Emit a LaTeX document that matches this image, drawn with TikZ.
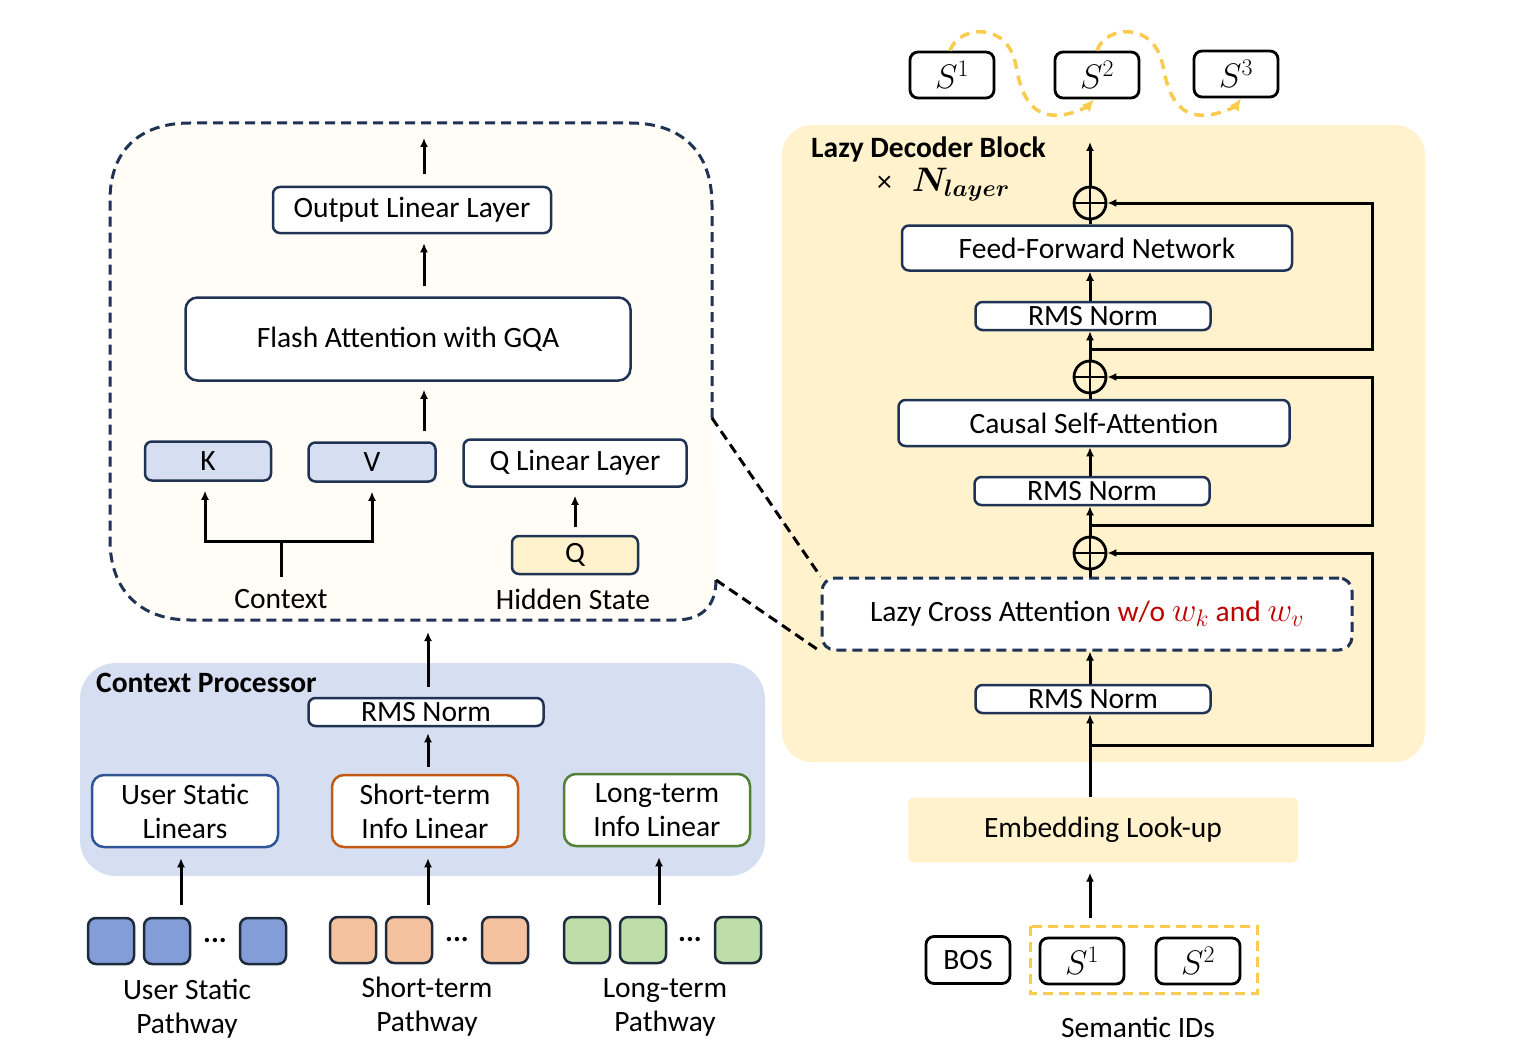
\RequirePackage{fix-cm}
\documentclass[tikz,border=0pt]{standalone}
\usepackage{amsmath,bm}
\usepackage{fontspec}
\setmainfont{Carlito}
\usetikzlibrary{arrows.meta}

\definecolor{navy}{HTML}{203354}
\definecolor{decbg}{HTML}{FFF2CC}
\definecolor{cpbg}{HTML}{D6DEF1}
\definecolor{kvfill}{HTML}{D6DEF1}
\definecolor{zoombg}{HTML}{FFFDF6}
\definecolor{gold}{HTML}{F9CB4F}
\definecolor{usblue}{HTML}{2F5597}
\definecolor{storange}{HTML}{C55A11}
\definecolor{ltgreen}{HTML}{538135}
\definecolor{tokblue}{HTML}{829DD7}
\definecolor{tokorange}{HTML}{F5C29F}
\definecolor{tokgreen}{HTML}{BDDDA9}
\definecolor{tokline}{HTML}{1E2B3C}
\definecolor{darkred}{HTML}{C00000}

\newcommand{\dfont}{\fontsize{29.5}{34}\selectfont}
% larger math to go with the body text
\newcommand{\bigmath}[1]{{\fontsize{34}{34}\selectfont$#1$}}

\tikzset{
  base/.style={font=\dfont, inner sep=0pt, align=center},
  blk/.style={base, draw=navy, line width=2.5pt, rounded corners=7pt, fill=white},
  sbox/.style={base, draw=black, line width=2.8pt, rounded corners=8pt, fill=white,
    minimum width=84pt, minimum height=46pt},
  tok/.style={draw=tokline, line width=2.5pt, rounded corners=8pt,
    minimum width=46pt, minimum height=46pt, inner sep=0pt},
  dots/.style={font=\dfont\bfseries, inner sep=0pt},
  ln/.style={line width=3pt},
  arr/.style={line width=3pt, -{Latex[length=9pt,width=8pt]}},
  goldarr/.style={draw=gold, line width=3.5pt, dash pattern=on 10pt off 7pt,
    -{Latex[length=12pt,width=11pt]}},
  adder/.style={circle, draw, line width=2.8pt, minimum size=32pt, inner sep=0pt,
    path picture={
      \draw[line width=2.8pt] (path picture bounding box.west) -- (path picture bounding box.east);
      \draw[line width=2.8pt] (path picture bounding box.north) -- (path picture bounding box.south);}},
}

\begin{document}
\begin{tikzpicture}[x=1pt,y=-1pt]
\useasboundingbox (0,0) rectangle (1524,1054);

% ---------- background panels ----------
\fill[decbg, rounded corners=30pt] (782,125) rectangle (1425,762);
\fill[cpbg, rounded corners=36pt] (80,663) rectangle (765,876);

% zoomed-in attention panel
\fill[zoombg] (110,200) .. controls (110,150) and (140,123) .. (190,123) -- (630,123)
  .. controls (680,123) and (712,150) .. (712,205) -- (712,418) -- (716,580)
  .. controls (716,603) and (705,620) .. (675,620) -- (190,620)
  .. controls (140,620) and (110,590) .. (110,540) -- cycle;
\draw[navy, line width=3pt, dash pattern=on 10pt off 6pt]
  (712,418) -- (712,205) .. controls (712,150) and (680,123) .. (630,123) -- (190,123)
  .. controls (140,123) and (110,150) .. (110,200) -- (110,540)
  .. controls (110,590) and (140,620) .. (190,620) -- (675,620)
  .. controls (705,620) and (716,603) .. (716,580);
\coordinate (zt) at (712,418);
\coordinate (zb) at (716,580);

% ---------- decoder column ----------
\node[base, font=\dfont\bfseries, anchor=west] (ldb) at (811,149) {Lazy Decoder Block};
\node[base, anchor=west] (nl) at (877,185) {×\hspace{20pt}\bigmath{\bm{N}_{\bm{layer}}}};

\node[sbox] (s1t) at (952,75) {\bigmath{S^1}};
\node[sbox] (s2t) at (1097,75) {\bigmath{S^2}};
\node[sbox] (s3t) at (1236,74) {\bigmath{S^3}};

\node[adder] (p1) at (1090,203) {};
\node[blk, minimum width=390pt, minimum height=45pt] (ffn) at (1097,248) {Feed-Forward Network};
\node[blk, minimum width=235pt, minimum height=28pt] (rms1) at (1093,316) {RMS Norm};
\node[adder] (p2) at (1090,377) {};
\node[blk, minimum width=391pt, minimum height=46pt] (csa) at (1094,423) {Causal Self-Attention};
\node[blk, minimum width=235pt, minimum height=28pt] (rms2) at (1092,491) {RMS Norm};
\node[adder] (p3) at (1090,553) {};
\node[blk, dash pattern=on 10pt off 6pt, line width=3pt, rounded corners=13pt,
  minimum width=530pt, minimum height=72pt] (lca) at (1087,614)
  {Lazy Cross Attention \textcolor{darkred}{w/o \bigmath{w_k} and \bigmath{w_v}}};
\node[blk, minimum width=235pt, minimum height=28pt] (rms3) at (1093,699) {RMS Norm};
\node[base, fill=decbg, rounded corners=6pt, minimum width=390pt, minimum height=65pt]
  (emb) at (1103,830) {Embedding Look-up};

\node[sbox, minimum height=47pt] (bos) at (968,960) {BOS};
\node[sbox] (sb1) at (1082,961) {\bigmath{S^1}};
\node[sbox] (sb2) at (1198,961) {\bigmath{S^2}};
\draw[gold, line width=3pt, dash pattern=on 10pt off 6pt] (1030,926) rectangle (1257,993);
\node[base] (sem) at (1138,1027) {Semantic IDs};

% spine
\coordinate (dtop) at (1090,142);
\coordinate (semtop) at (1090,918);
\draw[arr] (p1.north) -- (dtop);
\draw[ln] (p1 |- ffn.north) -- (p1.south);
\draw[arr] (p1 |- rms1.north) -- (p1 |- ffn.south);
\draw[arr] (p2.north) -- (p2 |- rms1.south);
\draw[ln] (p2 |- csa.north) -- (p2.south);
\draw[arr] (p2 |- rms2.north) -- (p2 |- csa.south);
\draw[arr] (p3.north) -- (p3 |- rms2.south);
\draw[ln] (p3 |- lca.north) -- (p3.south);
\draw[arr] (p3 |- rms3.north) -- (p3 |- lca.south);
\draw[arr] (p3 |- emb.north) -- (p3 |- rms3.south);
\draw[arr, shorten >=10pt] (semtop) -- (p3 |- emb.south);

% residual paths
\coordinate (r1) at (1090,349);
\coordinate (r2) at (1090,525);
\coordinate (r3) at (1090,745);
\draw[arr] (r1) -- ++(282,0) |- (p1.east);
\draw[arr] (r2) -- ++(282,0) |- (p2.east);
\draw[arr] (r3) -- ++(282,0) |- (p3.east);

% autoregressive hops
\draw[goldarr] (s1t.north -| 950,0) .. controls (958,26) and (1008,20) .. (1016,66)
  .. controls (1022,100) and (1034,118) .. (1062,115)
  .. controls (1076,113) and (1088,106) .. (s2t.south -| 1094,0);
\draw[goldarr] (s2t.north -| 1097,0) .. controls (1105,26) and (1154,20) .. (1163,66)
  .. controls (1169,100) and (1181,118) .. (1209,115)
  .. controls (1223,113) and (1236,106) .. (s3t.south -| 1241,0);

% links from the zoomed panel to the cross attention
\draw[line width=3pt, dash pattern=on 10pt off 6pt] (zt) -- (lca.north west);
\draw[line width=3pt, dash pattern=on 10pt off 6pt] (zb) -- (lca.south west);

% ---------- attention detail ----------
\node[blk, minimum width=278pt, minimum height=46pt] (out) at (412,210) {Output Linear Layer};
\node[blk, rounded corners=12pt, minimum width=445pt, minimum height=83pt] (fa) at (408,339) {Flash Attention with GQA};
\node[blk, fill=kvfill, minimum width=126pt, minimum height=39pt] (kk) at (208,461) {K};
\node[blk, fill=kvfill, minimum width=127pt, minimum height=39pt] (vv) at (372,462) {V};
\node[blk, minimum width=223pt, minimum height=47pt] (ql) at (575,463) {Q Linear Layer};
\node[blk, fill=decbg, minimum width=126pt, minimum height=38pt] (qq) at (575,555) {Q};
\node[base] (ctx) at (281,599) {Context};
\node[base] (hs) at (573,599) {Hidden State};

\coordinate (ax) at (424,0);
\coordinate (outtip) at (424,138);
\coordinate (fain) at (424,431);
\draw[arr, shorten <=12pt] (out.north -| ax) -- (outtip);
\draw[arr, shorten <=10pt, shorten >=9pt] (fa.north -| ax) -- (out.south -| ax);
\draw[arr, shorten >=8pt] (fain) -- (fa.south -| ax);
\draw[arr, shorten <=8pt, shorten >=8pt] (qq.north) -- (ql.south);
\coordinate (fork) at (281,541);
\coordinate (ctxtop) at (281,577);
\draw[ln] (ctxtop) -- (fork);
\draw[arr, shorten >=9pt] (fork) -| (kk.south -| 205,0);
\draw[arr, shorten >=9pt] (fork) -| (vv.south);

% ---------- context processor ----------
\node[base, font=\dfont\bfseries, anchor=west] (cpt) at (96,683) {Context Processor};
\node[blk, minimum width=235pt, minimum height=28pt] (crms) at (426,712) {RMS Norm};
\node[blk, draw=usblue, rounded corners=12pt, minimum width=186pt, minimum height=72pt] (usl) at (185,811) {User Static\\Linears};
\node[blk, draw=storange, rounded corners=12pt, minimum width=186pt, minimum height=72pt] (stl) at (425,811) {Short-term\\Info Linear};
\node[blk, draw=ltgreen, rounded corners=12pt, minimum width=186pt, minimum height=72pt] (ltl) at (657,810) {Long-term\\Info Linear};

\coordinate (cx) at (428,0);
\coordinate (lpb) at (428,620);
\draw[arr, shorten <=10pt, shorten >=12pt] (crms.north -| cx) -- (lpb);
\draw[arr, shorten <=7pt, shorten >=6pt] (stl.north -| cx) -- (crms.south -| cx);

% token sequences
\node[tok, fill=tokblue] (ub1) at (111,941) {};
\node[tok, fill=tokblue] (ub2) at (167,941) {};
\node[dots] (ubd) at (215,941) {...};
\node[tok, fill=tokblue] (ub3) at (263,941) {};
\node[tok, fill=tokorange] (so1) at (353,940) {};
\node[tok, fill=tokorange] (so2) at (409,940) {};
\node[dots] (sod) at (457,940) {...};
\node[tok, fill=tokorange] (so3) at (505,940) {};
\node[tok, fill=tokgreen] (lg1) at (587,940) {};
\node[tok, fill=tokgreen] (lg2) at (643,940) {};
\node[dots] (lgd) at (690,940) {...};
\node[tok, fill=tokgreen] (lg3) at (738,940) {};

\node[base] (usp) at (187,1009) {User Static\\Pathway};
\node[base] (stp) at (427,1007) {Short-term\\Pathway};
\node[base] (ltp) at (665,1007) {Long-term\\Pathway};

\coordinate (ua) at (181,918);
\coordinate (sa) at (428,918);
\coordinate (la) at (659,918);
\draw[arr, shorten <=13pt, shorten >=10pt] (ua) -- (usl.south -| ua);
\draw[arr, shorten <=13pt, shorten >=10pt] (sa) -- (stl.south -| sa);
\draw[arr, shorten <=13pt, shorten >=10pt] (la) -- (ltl.south -| la);

\end{tikzpicture}
\end{document}
